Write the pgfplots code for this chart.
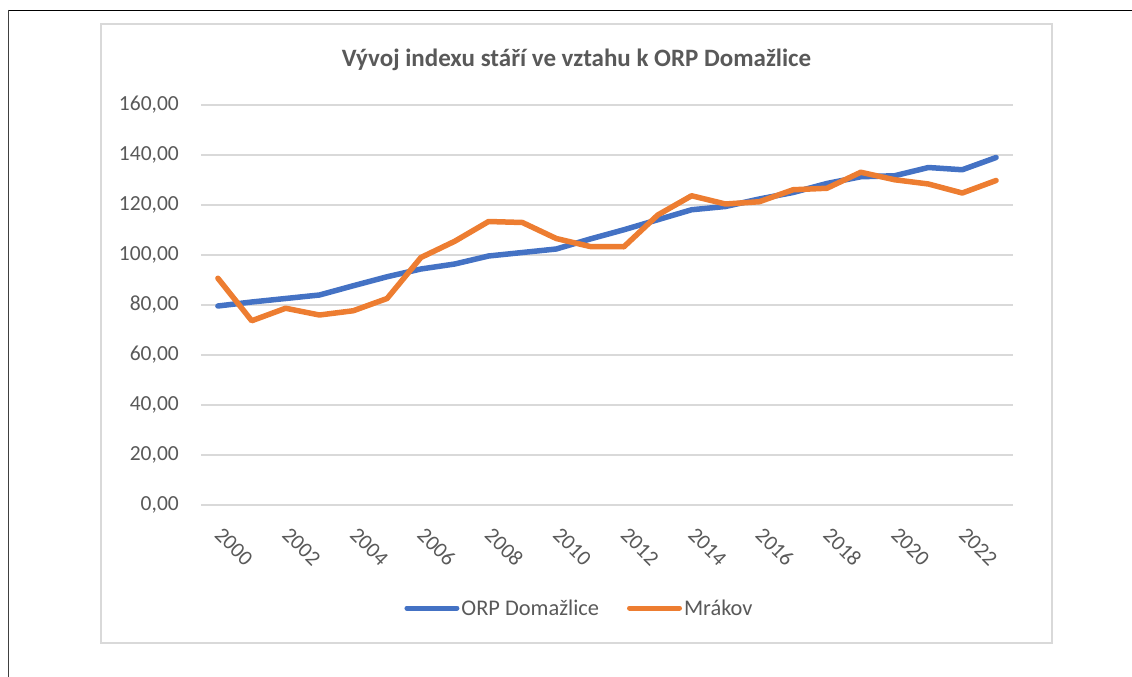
\documentclass[border=0pt]{standalone}
\usepackage{pgfplots}
\pgfplotsset{compat=1.18}
\usepackage{fontspec}
\setmainfont{Carlito}
\definecolor{txtgray}{HTML}{595959}
\definecolor{gridgray}{HTML}{D9D9D9}
\definecolor{xlblue}{HTML}{4472C4}
\definecolor{xlorange}{HTML}{ED7D31}
\begin{document}
\begin{tikzpicture}[x=1pt,y=1pt]
\useasboundingbox (0,0) rectangle (1132,-677);
\draw[black, line width=1.2pt] (8,-10.5) -- (1132,-10.5);
\draw[black!75, line width=1.6pt] (8.5,-10) -- (8.5,-677);
\draw[gridgray, line width=1.3pt] (101,-24) rectangle (1052,-643);
\node[anchor=base, text=txtgray, font=\fontsize{25}{30}\selectfont\bfseries] at (576.5,-66.7) {Vývoj indexu stáří ve vztahu k ORP Domažlice};
\begin{axis}[
  at={(201pt,-505pt)}, anchor=south west,
  scale only axis, width=812pt, height=400pt,
  xmin=1999.5, xmax=2023.5, ymin=0, ymax=160,
  ytick={0,20,...,160}, xtick={2000,2002,...,2022},
  axis line style={draw=none},
  major tick length=0pt,
  ymajorgrids, grid style={color=gridgray, line width=1.3pt},
  tick label style={text=txtgray, font=\fontsize{21.5}{26}\selectfont},
  /pgf/number format/assume math mode=true,
  yticklabel style={/pgf/number format/fixed, /pgf/number format/fixed zerofill, /pgf/number format/precision=2, /pgf/number format/use comma, /pgf/number format/1000 sep={}},
  yticklabel style={anchor=east, inner sep=0pt, xshift=-22pt},
  xticklabel style={/pgf/number format/1000 sep={}},
  xticklabel style={xshift=5.5pt, yshift=-21pt, rotate=-45, anchor=north west, inner sep=0pt},
  legend columns=2,
  legend style={draw=none, fill=none, at={(0.4661,-0.2575)}, anchor=center,
    font=\fontsize{22.4}{26}\selectfont, text=txtgray,
    /tikz/every even column/.append style={column sep=26pt},
    nodes={inner sep=2pt}},
  legend image code/.code={\draw[#1, line width=5pt, line cap=round] (0pt,0pt) -- (50pt,0pt);},
  clip=false,
]
\addplot[xlblue, line width=5.5pt, line join=round, line cap=round] coordinates {
(2000,79.6) (2001,81.2) (2002,82.6) (2003,84.0) (2004,87.7) (2005,91.3)
(2006,94.4) (2007,96.4) (2008,99.6) (2009,101.0) (2010,102.4) (2011,106.4)
(2012,110.1) (2013,114.1) (2014,118.1) (2015,119.4) (2016,122.4) (2017,125.0)
(2018,128.6) (2019,131.3) (2020,131.7) (2021,135.0) (2022,134.1) (2023,139.0)
};
\addlegendentry{ORP Domažlice}
\addplot[xlorange, line width=5.5pt, line join=round, line cap=round] coordinates {
(2000,90.7) (2001,73.7) (2002,78.7) (2003,76.0) (2004,77.7) (2005,82.6)
(2006,99.0) (2007,105.5) (2008,113.4) (2009,113.0) (2010,106.6) (2011,103.4)
(2012,103.3) (2013,116.0) (2014,123.7) (2015,120.4) (2016,121.3) (2017,126.1)
(2018,126.7) (2019,133.1) (2020,130.1) (2021,128.4) (2022,124.8) (2023,129.8)
};
\addlegendentry{Mrákov}
\end{axis}
\end{tikzpicture}
\end{document}
